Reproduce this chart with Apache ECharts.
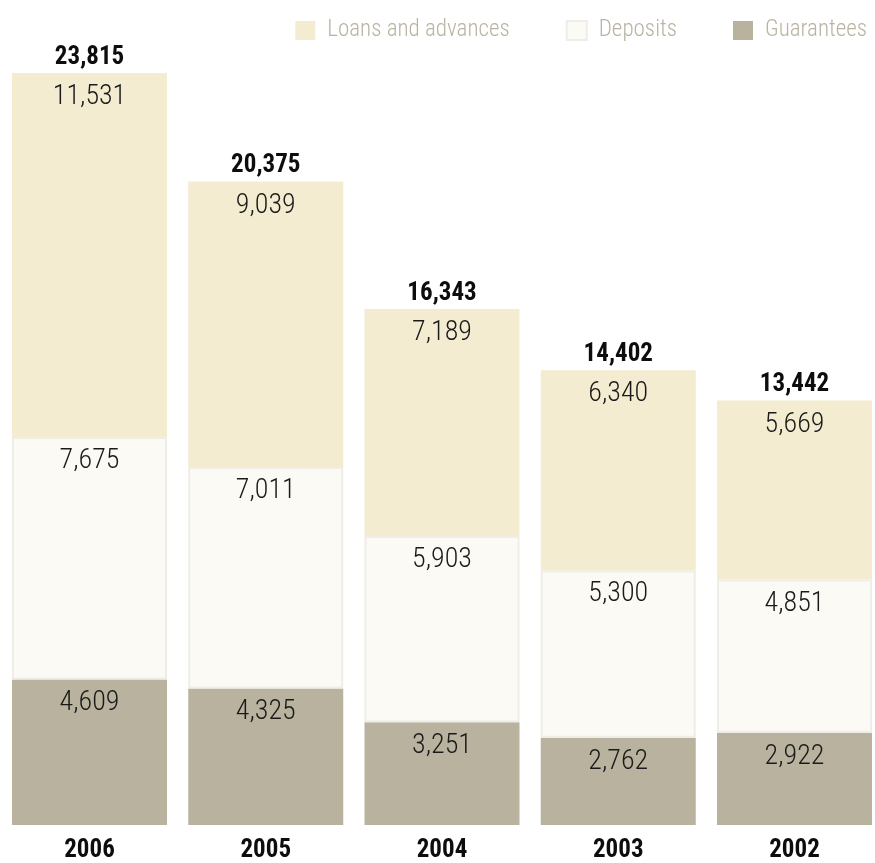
<!DOCTYPE html>
<html>
<head>
<meta charset="utf-8">
<script src="https://cdn.jsdelivr.net/npm/echarts@6/dist/echarts.min.js"></script>
<style>
  html, body { margin: 0; padding: 0; background: #ffffff; }
  #chart { width: 875px; height: 863px; }
</style>
</head>
<body>
<div id="chart"></div>
<script>
// Years, most recent first
const years = ['2006', '2005', '2004', '2003', '2002'];

// Segment values per year
const loansAndAdvances = [11531, 9039, 7189, 6340, 5669];
const deposits = [7675, 7011, 5903, 5300, 4851];
const guarantees = [4609, 4325, 3251, 2762, 2922];

// Totals printed above each bar
const totals = [23815, 20375, 16343, 14402, 13442];

const FONT = '"Roboto Condensed", "Liberation Sans", Arial, sans-serif';

const fmt = v => Number(v).toLocaleString('en-US');

const segmentLabel = {
  show: true,
  position: 'insideTop',
  distance: 10,
  color: '#1a1a1a',
  fontFamily: FONT,
  fontWeight: 300,
  fontSize: 28,
  formatter: p => fmt(p.value)
};

const chart = echarts.init(document.getElementById('chart'), null, { renderer: 'canvas' });

// Category ticks sit at the bar centres (boundaryGap off), so the outer
// bars may reach past the grid edges.
chart.setOption({
  animation: false,
  backgroundColor: '#ffffff',
  grid: { left: 89.5, right: 80.5, top: 73, bottom: 34, containLabel: false },
  legend: {
    data: ['Loans and advances', 'Deposits', 'Guarantees'],
    right: 3,
    top: 14,
    itemWidth: 20,
    itemHeight: 19,
    itemGap: 56,
    icon: 'rect',
    selectedMode: false,
    textStyle: { fontFamily: FONT, fontWeight: 300, fontSize: 23, color: '#b9b4a2', padding: [0, 0, 0, 7] }
  },
  xAxis: {
    type: 'category',
    data: years,
    boundaryGap: false,
    axisLine: { show: false },
    axisTick: { show: false },
    axisLabel: {
      margin: 13,
      color: '#0d0d0d',
      fontFamily: FONT,
      fontWeight: 'bold',
      fontSize: 25
    }
  },
  yAxis: {
    type: 'value',
    min: 0,
    max: 23815,
    show: false,
    splitLine: { show: false }
  },
  series: [
    {
      name: 'Guarantees',
      type: 'bar',
      stack: 'total',
      barWidth: 155,
      clip: false,
      data: guarantees,
      itemStyle: { color: '#b8b29e' },
      label: segmentLabel
    },
    {
      name: 'Deposits',
      type: 'bar',
      stack: 'total',
      barWidth: 155,
      clip: false,
      data: deposits,
      itemStyle: { color: '#fbfaf5', borderColor: '#efede7', borderWidth: 2 },
      label: segmentLabel
    },
    {
      name: 'Loans and advances',
      type: 'bar',
      stack: 'total',
      barWidth: 155,
      clip: false,
      data: loansAndAdvances,
      itemStyle: { color: '#f4ecd0' },
      label: segmentLabel
    },
    {
      // invisible bar carrying the total above each stack
      name: 'Total',
      type: 'bar',
      barWidth: 155,
      barGap: '-100%',
      clip: false,
      data: totals,
      silent: true,
      z: 1,
      itemStyle: { color: 'rgba(0,0,0,0)' },
      label: {
        show: true,
        position: 'top',
        distance: 3,
        color: '#0d0d0d',
        fontFamily: FONT,
        fontWeight: 'bold',
        fontSize: 25,
        formatter: p => fmt(p.value)
      }
    }
  ]
});
</script>
</body>
</html>
